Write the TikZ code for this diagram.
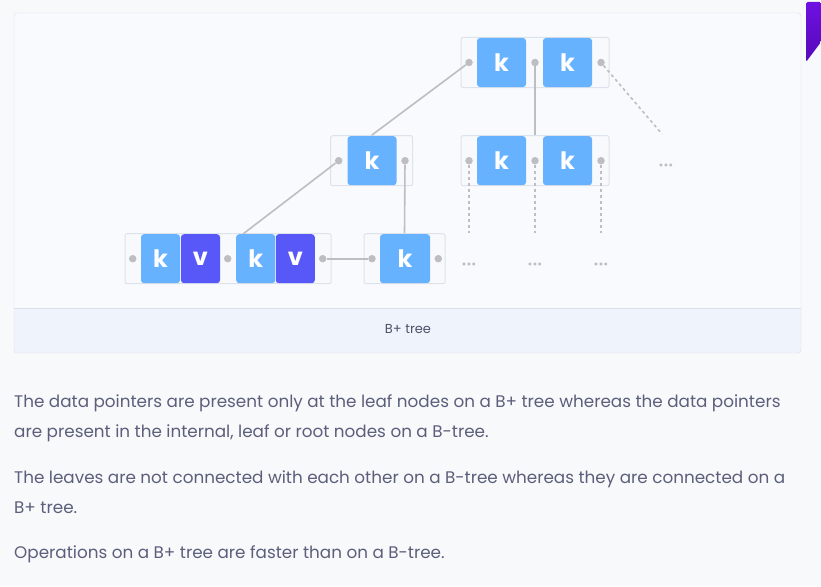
\documentclass[tikz,border=0pt]{standalone}
\usepackage{fontspec}
\setmainfont{Poppins}
\definecolor{pagebg}{HTML}{F8F9FB}
\definecolor{cardfill}{HTML}{F9FAFD}
\definecolor{cardline}{HTML}{D9DFEA}
\definecolor{capfill}{HTML}{EFF3FC}
\definecolor{holderline}{HTML}{DDE3EC}
\definecolor{holderfill}{HTML}{F7F9FC}
\definecolor{keyblue}{HTML}{66B2FF}
\definecolor{valblue}{HTML}{5858F8}
\definecolor{ptrgray}{HTML}{BEBEC2}
\definecolor{bodytext}{HTML}{5B5F7B}
\definecolor{tabtop}{HTML}{6E10E2}
\definecolor{tabbot}{HTML}{560AB8}
\begin{document}
\begin{tikzpicture}[x=1pt,y=-1pt,
  holder/.style={draw=holderline,line width=1pt,fill=holderfill,rounded corners=2pt,minimum height=50pt,inner sep=0pt},
  kbox/.style={fill=keyblue,rounded corners=3pt,minimum height=49pt,inner sep=0pt,text=white,font=\fontsize{24}{26}\selectfont\bfseries},
  vbox/.style={kbox,fill=valblue},
  ptr/.style={circle,fill=ptrgray,minimum size=7.5pt,inner sep=0pt},
  link/.style={draw=ptrgray,line width=1.6pt},
  stub/.style={draw=ptrgray,line width=1.6pt,dash pattern=on 3pt off 3pt},
  etc/.style={text=ptrgray,font=\fontsize{12}{12}\selectfont,inner sep=0pt}]
\fill[pagebg] (0,0) rectangle (821,586);
\useasboundingbox (0,0) rectangle (821,586);
% card with caption band
\fill[cardfill,rounded corners=3pt] (14,13) rectangle (801,353);
\fill[capfill,rounded corners=3pt] (14,308) rectangle (801,353);
\draw[cardline] (14,308) -- (801,308);
\draw[cardline,rounded corners=3pt] (14,13) rectangle (801,353);
\node[font=\fontsize{13}{15}\selectfont,text=bodytext!85!black] (cap) at (408,329) {B+ tree};
% purple tab in the corner
\shade[top color=tabtop,bottom color=tabbot,rounded corners=1.5pt] (806,2) -- (821,2) -- (821,42) -- (806,62) -- cycle;
% root
\node[holder,minimum width=148pt] (root) at (535,62.5) {};
\node[kbox,minimum width=49pt] (rk1) at (501.5,62.5) {k};
\node[kbox,minimum width=49pt] (rk2) at (567.5,62.5) {k};
\node[ptr] (rp0) at (469,62.5) {};
\node[ptr] (rp1) at (535,62.5) {};
\node[ptr] (rp2) at (601,62.5) {};
% internal nodes
\node[holder,minimum width=82pt] (inl) at (371.7,160.7) {};
\node[kbox,minimum width=49pt] (ilk) at (372,160.7) {k};
\node[ptr] (ilp0) at (338.7,160.7) {};
\node[ptr] (ilp1) at (405,160.7) {};
\node[holder,minimum width=148pt] (inr) at (535,160.7) {};
\node[kbox,minimum width=49pt] (irk1) at (501.5,160.7) {k};
\node[kbox,minimum width=49pt] (irk2) at (567.5,160.7) {k};
\node[ptr] (irp0) at (469,160.7) {};
\node[ptr] (irp1) at (535,160.7) {};
\node[ptr] (irp2) at (601,160.7) {};
% leaves
\node[holder,minimum width=206pt] (lfl) at (228,258.7) {};
\node[kbox,minimum width=39pt] (lk1) at (160.5,258.7) {k};
\node[vbox,minimum width=39pt] (lv1) at (200.5,258.7) {v};
\node[kbox,minimum width=39pt] (lk2) at (255.7,258.7) {k};
\node[vbox,minimum width=39pt] (lv2) at (295.3,258.7) {v};
\node[ptr] (lp0) at (132.7,258.7) {};
\node[ptr] (lp1) at (227.7,258.7) {};
\node[ptr] (lp2) at (322.7,258.7) {};
\node[holder,minimum width=81pt] (lfr) at (404.5,258.7) {};
\node[kbox,minimum width=50pt] (lrk) at (405,258.7) {k};
\node[ptr] (lrp0) at (372,258.7) {};
\node[ptr] (lrp1) at (438.3,258.7) {};
% more of the tree
\node[etc] (e0) at (666,167) {•••};
\node[etc] (e1) at (469,266) {•••};
\node[etc] (e2) at (535,266) {•••};
\node[etc] (e3) at (601,266) {•••};
\coordinate (s0) at (662,134);
\coordinate (s1) at (469,233);
\coordinate (s2) at (535,233);
\coordinate (s3) at (601,233);
% connectors
\draw[link] (rp0) -- (inl.north);
\draw[link] (rp1) -- (inr.north);
\draw[link] (ilp0) -- ([xshift=7pt]lk2.north west);
\draw[link] (ilp1) -- (lfr.north);
\draw[link] (lp2) -- (lrp0);
\draw[stub] (rp2) -- (s0);
\foreach \u/\v in {irp0/s1,irp1/s2,irp2/s3}
  \draw[stub] (\u) -- (\v);
% text below the card
\begin{scope}[every node/.style={anchor=base west,inner sep=0pt,text=bodytext,font=\fontsize{16.8}{30}\selectfont}]
\node (t1) at (14,407) {The data pointers are present only at the leaf nodes on a B+ tree whereas the data pointers};
\node (t2) at (14,437) {are present in the internal, leaf or root nodes on a B-tree.};
\node (t3) at (14,483) {The leaves are not connected with each other on a B-tree whereas they are connected on a};
\node (t4) at (14,513) {B+ tree.};
\node (t5) at (14,558) {Operations on a B+ tree are faster than on a B-tree.};
\end{scope}
\end{tikzpicture}
\end{document}
